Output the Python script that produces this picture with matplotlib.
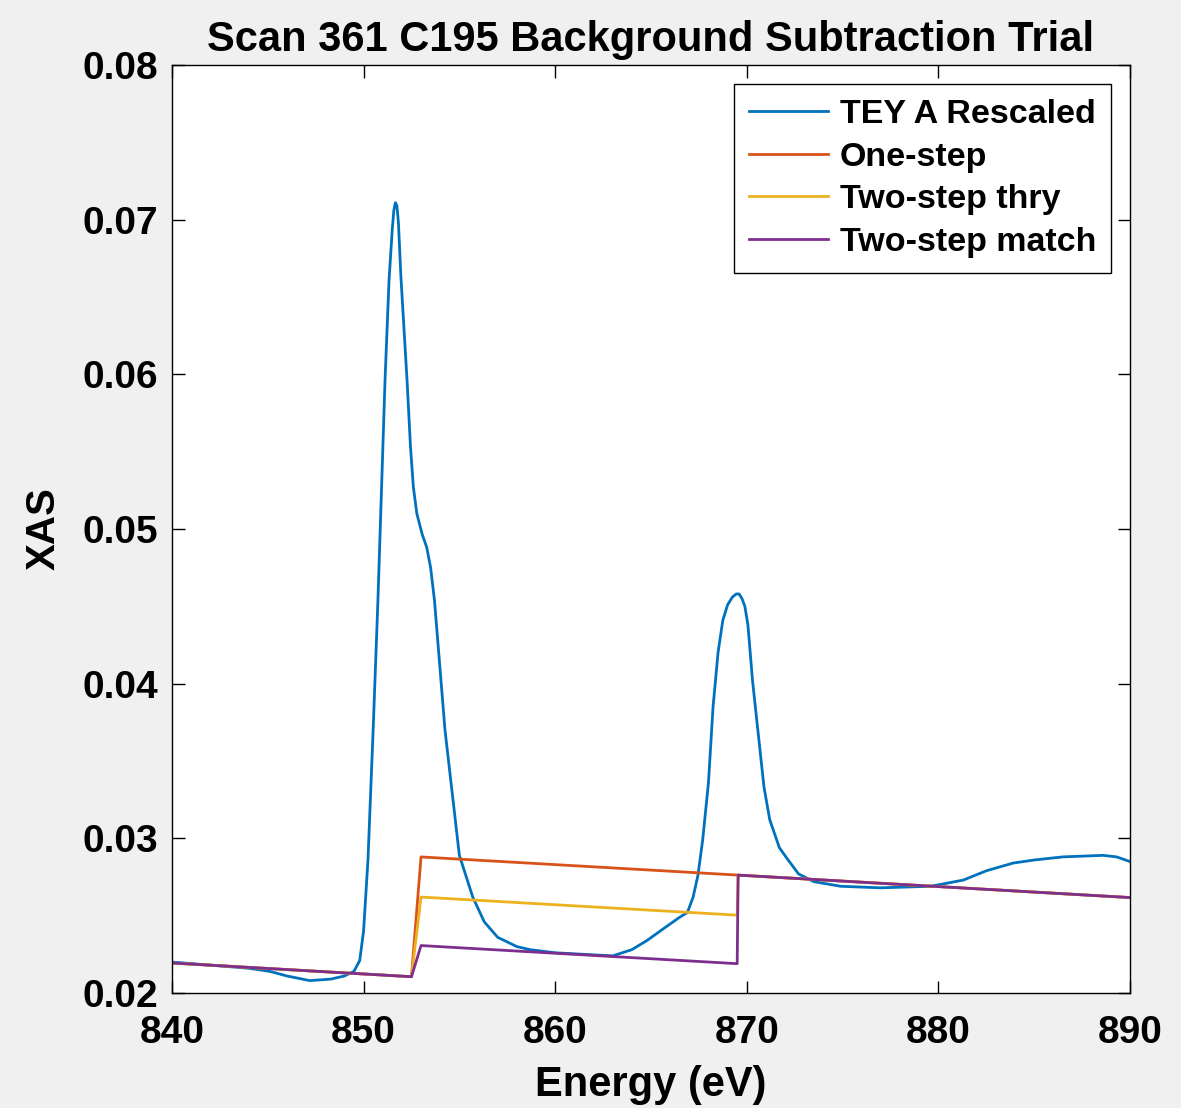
import numpy as np
from matplotlib import pyplot as plt

# TEY A Rescaled
energy = [840.0, 842.0, 844.0, 845.1, 846.0, 847.2, 848.3, 849.0, 849.5, 849.8,
          850.0, 850.23, 850.5, 850.75, 851.12, 851.33, 851.5, 851.58, 851.66, 851.74,
          851.82, 851.95, 852.27, 852.45, 852.6, 852.78, 853.05, 853.3, 853.5, 853.7,
          854.25, 855.0, 855.7, 856.3, 857.0, 858.0, 858.7, 860.0, 861.5, 863.0,
          864.0, 864.8, 865.7, 866.5, 866.9, 867.2, 867.45, 867.7, 868.0, 868.24,
          868.5, 868.75, 869.0, 869.25, 869.45, 869.6, 869.75, 869.9, 870.06, 870.3,
          870.43, 870.9, 871.2, 871.7, 872.1, 872.7, 873.5, 874.9, 877.0, 879.6,
          881.3, 882.5, 883.9, 885.0, 886.5, 888.6, 889.3, 890.0]
tey = [0.0220, 0.0218, 0.0216, 0.0214, 0.0211, 0.0208, 0.0209, 0.0211, 0.0214, 0.0221,
       0.0240, 0.0286, 0.0370, 0.0454, 0.0596, 0.0661, 0.0694, 0.0706, 0.0711, 0.0709,
       0.0698, 0.0663, 0.0596, 0.0553, 0.0527, 0.0510, 0.0497, 0.0488, 0.0475, 0.0454,
       0.0370, 0.0289, 0.0262, 0.0246, 0.0236, 0.0230, 0.0228, 0.0226, 0.0225, 0.0224,
       0.0228, 0.0234, 0.0242, 0.0249, 0.0252, 0.0262, 0.0276, 0.0299, 0.0336, 0.0385,
       0.0420, 0.0441, 0.0451, 0.0456, 0.0458, 0.0458, 0.0455, 0.0450, 0.0438, 0.0402,
       0.0387, 0.0333, 0.0312, 0.0294, 0.0287, 0.0277, 0.0272, 0.0269, 0.0268, 0.0269,
       0.0273, 0.0279, 0.0284, 0.0286, 0.0288, 0.0289, 0.0288, 0.0285]

# linear background + edge steps
bg_at_840 = 0.02194
bg_slope = -7.1e-5
l3_edge = (852.5, 853.0)
l2_edge = (869.5, 869.55)
step_total = 0.00778
l3_fraction = {"One-step": 1.0, "Two-step thry": 2 / 3, "Two-step match": 0.00205 / 0.00778}

series_labels = ["TEY A Rescaled", "One-step", "Two-step thry", "Two-step match"]
colors = ["#0072BD", "#D95319", "#EDB120", "#7E2F8E"]


def ramp(e, edge):
    return np.clip((e - edge[0]) / (edge[1] - edge[0]), 0, 1)


e_grid = np.round(np.arange(840, 890.001, 0.05), 2)
linear = bg_at_840 + bg_slope * (e_grid - 840)

plt.rcParams['font.family'] = ['Liberation Sans', 'DejaVu Sans']
plt.rcParams['font.weight'] = 'bold'

fig = plt.figure(figsize=(11.81, 11.08), dpi=100, facecolor='#f0f0f0')
ax = fig.add_axes([0.1456, 0.1038, 0.8112, 0.8375])

ax.plot(energy, tey, color=colors[0], lw=2, label=series_labels[0])
for name, c in zip(series_labels[1:], colors[1:]):
    f = l3_fraction[name]
    step = step_total * (f * ramp(e_grid, l3_edge) + (1 - f) * ramp(e_grid, l2_edge))
    ax.plot(e_grid, linear + step, color=c, lw=2, label=name)

ax.set_xlim(840, 890)
ax.set_ylim(0.02, 0.08)
ax.set_xticks(np.arange(840, 891, 10))
ax.set_yticks(np.arange(0.02, 0.0801, 0.01))
ax.yaxis.set_major_formatter(plt.FormatStrFormatter('%.2f'))
ax.tick_params(direction='in', length=9, width=1, top=True, right=True,
               labelsize=28)
ax.tick_params(axis='x', pad=16)
ax.tick_params(axis='y', pad=10)
for s in ax.spines.values():
    s.set_linewidth(1)

ax.set_title("Scan 361 C195 Background Subtraction Trial", fontsize=30,
             fontweight='bold', pad=10)
ax.set_xlabel("Energy (eV)", fontsize=30, fontweight='bold', labelpad=10)
ax.set_ylabel("XAS", fontsize=29, fontweight='bold', labelpad=14)

leg = ax.legend(loc='upper right', fontsize=24.5, frameon=True, fancybox=False,
                edgecolor='black', framealpha=1, handlelength=2.3,
                borderaxespad=0.55, labelspacing=0.34, handletextpad=0.35,
                borderpad=0.45)
leg.get_frame().set_linewidth(1)

fig.savefig("out.png", dpi=100, facecolor=fig.get_facecolor())
